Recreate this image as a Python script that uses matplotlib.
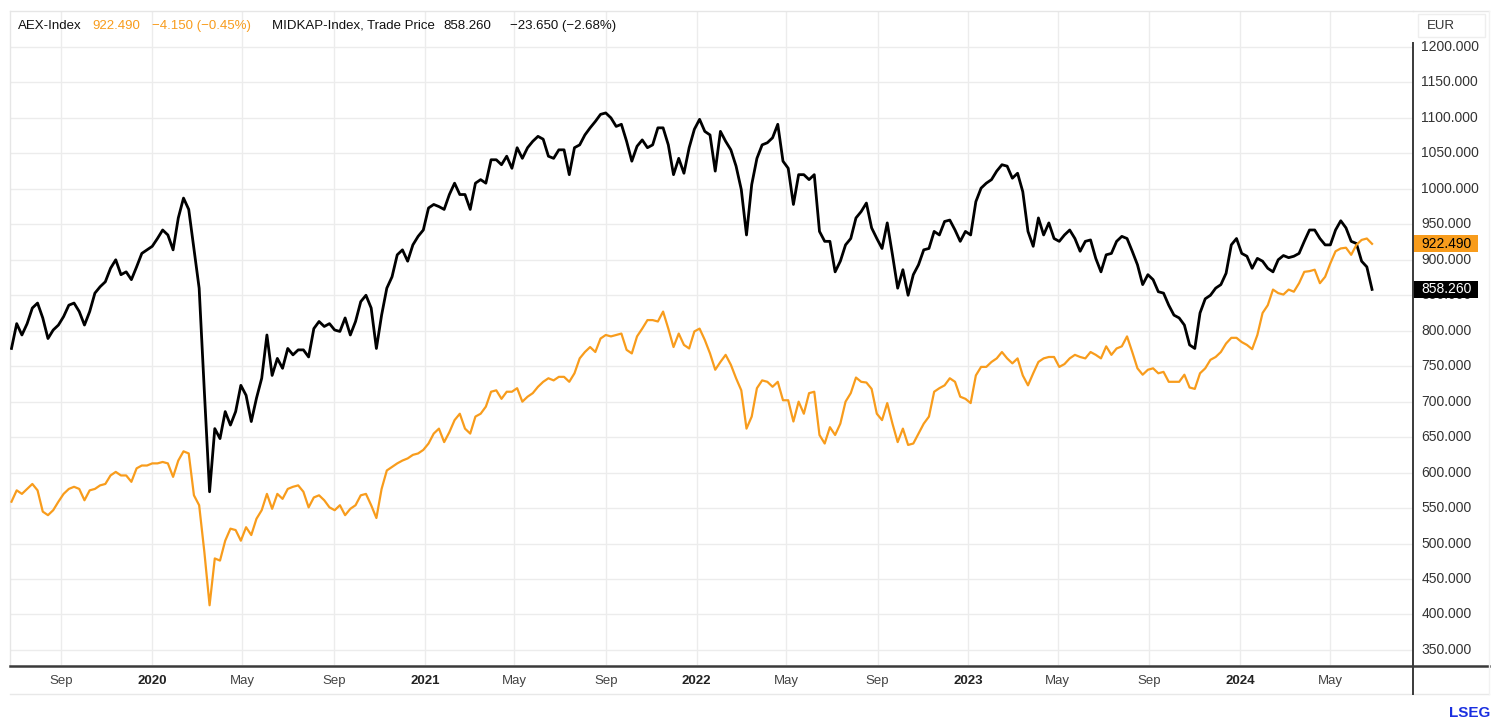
import numpy as np
import pandas as pd
import matplotlib
matplotlib.use("Agg")
import matplotlib.pyplot as plt
import matplotlib.dates as mdates
import matplotlib.transforms as mtransforms
from matplotlib.lines import Line2D
from matplotlib.patches import Rectangle

plt.rcParams['font.family'] = ['Liberation Sans', 'DejaVu Sans']

# weekly closes, starting 2019-06-26
start_date = "2019-06-26"

aex = [559, 575, 570, 577, 584, 575, 545, 540, 547, 559, 570, 577, 580, 577, 561, 575,
       577, 582, 584, 596, 601, 596, 596, 587, 606, 610, 610, 613, 613, 615, 613, 594,
       617, 630, 627, 568, 554, 488, 413, 479, 476, 504, 521, 519, 504, 523, 512, 535,
       547, 570, 549, 570, 563, 577, 580, 582, 573, 551, 565, 568, 561, 551, 547, 554,
       540, 549, 554, 568, 570, 554, 536, 577, 603, 608, 613, 617, 620, 625, 627, 632,
       641, 655, 662, 643, 657, 674, 683, 662, 655, 679, 683, 693, 714, 716, 704, 714,
       714, 719, 700, 707, 712, 721, 728, 733, 730, 735, 735, 728, 740, 761, 770, 777,
       770, 789, 794, 792, 794, 796, 773, 768, 792, 803, 815, 815, 813, 827, 803, 777,
       796, 780, 775, 799, 803, 787, 768, 745, 756, 766, 752, 733, 716, 662, 679, 719,
       730, 728, 721, 728, 702, 702, 672, 700, 683, 712, 714, 653, 641, 664, 653, 669,
       700, 712, 734, 728, 727, 718, 683, 674, 698, 669, 643, 662, 639, 641, 655, 669,
       679, 714, 719, 723, 733, 728, 707, 704, 698, 737, 749, 749, 756, 761, 770, 761,
       754, 761, 737, 723, 740, 756, 761, 763, 763, 749, 753, 761, 766, 763, 761, 770,
       766, 761, 778, 766, 775, 778, 792, 770, 747, 738, 745, 747, 740, 742, 728, 728,
       728, 738, 720, 718, 740, 747, 759, 763, 770, 782, 790, 790, 784, 780, 774, 794,
       825, 836, 858, 853, 851, 858, 855, 867, 883, 884, 886, 867, 876, 895, 912, 916,
       917, 907, 921, 928, 930, 922.49]

midkap = [775, 810, 794, 810, 832, 839, 818, 789, 801, 808, 820, 836, 839, 827, 808, 827,
          853, 862, 869, 888, 900, 879, 883, 872, 890, 909, 914, 919, 930, 942, 935, 914,
          959, 987, 971, 916, 860, 714, 573, 662, 648, 686, 667, 686, 723, 709, 672, 705,
          733, 794, 737, 761, 747, 775, 766, 773, 773, 763, 803, 813, 806, 810, 801, 799,
          818, 794, 813, 841, 850, 832, 775, 822, 860, 876, 907, 914, 898, 921, 933, 942,
          973, 978, 975, 971, 992, 1008, 992, 992, 971, 1008, 1013, 1008, 1041, 1041, 1034, 1046,
          1029, 1058, 1043, 1058, 1067, 1074, 1070, 1046, 1043, 1055, 1055, 1020, 1058, 1062, 1076, 1086,
          1095, 1105, 1107, 1100, 1088, 1091, 1067, 1039, 1060, 1069, 1058, 1062, 1086, 1086, 1062, 1020,
          1043, 1022, 1058, 1084, 1098, 1081, 1076, 1025, 1081, 1067, 1055, 1032, 999, 935, 1006, 1043,
          1062, 1065, 1072, 1091, 1039, 1029, 978, 1020, 1020, 1013, 1020, 940, 926, 926, 883, 898,
          921, 930, 959, 968, 980, 945, 930, 916, 952, 907, 860, 886, 850, 879, 893, 914,
          916, 940, 935, 954, 956, 942, 926, 940, 935, 982, 1001, 1008, 1013, 1025, 1034, 1032,
          1015, 1022, 996, 940, 919, 959, 935, 952, 930, 926, 935, 942, 930, 912, 926, 928,
          902, 883, 907, 909, 926, 933, 930, 912, 893, 865, 879, 872, 855, 853, 836, 822,
          818, 808, 780, 775, 825, 845, 850, 860, 865, 881, 921, 930, 909, 905, 888, 902,
          898, 888, 883, 900, 906, 903, 905, 909, 926, 942, 942, 930, 921, 921, 942, 955,
          945, 926, 923, 898, 890, 858.26]

month_ticks = ["2019-09-01", "2020-01-01", "2020-05-01", "2020-09-01", "2021-01-01",
               "2021-05-01", "2021-09-01", "2022-01-01", "2022-05-01", "2022-09-01",
               "2023-01-01", "2023-05-01", "2023-09-01", "2024-01-01", "2024-05-01"]
y_ticks = list(range(350, 1201, 50))

ORANGE = "#F89C1C"
W, H = 1500, 726
X0, X1 = pd.Timestamp("2019-06-24"), pd.Timestamp("2024-08-20")


def fx(px):
    return px / W


def fy(py):
    return 1 - py / H


dates = pd.date_range(start_date, periods=len(aex), freq="7D")

fig = plt.figure(figsize=(15, 7.26), dpi=100)
ax = fig.add_axes([fx(10), fy(665), fx(1413) - fx(10), fy(11) - fy(665)])

ax.plot(dates, midkap, color="black", lw=2.0, zorder=3)
ax.plot(dates, aex, color=ORANGE, lw=1.6, zorder=4)

ax.set_xlim(X0, X1)
ax.set_ylim(328.8, 1250.7)

tick_dates = pd.to_datetime(month_ticks)
ax.set_xticks(tick_dates)
ax.set_xticklabels([])
ax.set_yticks(y_ticks)
ax.set_yticklabels([])
ax.tick_params(length=0)
ax.grid(True, color="#ECECEC", lw=1.0, zorder=0)

for s in ["left", "top"]:
    ax.spines[s].set_color("#E6E6E6")
    ax.spines[s].set_linewidth(1.0)
ax.spines["right"].set_visible(False)
ax.spines["bottom"].set_visible(False)

# axis lines outside the plotting area
fig.add_artist(Line2D([fx(10), fx(1489)], [fy(665.5), fy(665.5)], color="#3A3A3A", lw=1.8))
fig.add_artist(Line2D([fx(10), fx(1489)], [fy(694), fy(694)], color="#E8E8E8", lw=1.0))
fig.add_artist(Line2D([fx(1413), fx(1413)], [fy(43), fy(694)], color="#3A3A3A", lw=1.4))
fig.add_artist(Line2D([fx(1413), fx(1489)], [fy(11), fy(11)], color="#E6E6E6", lw=1.0))
fig.add_artist(Line2D([fx(1489), fx(1489)], [fy(11), fy(694)], color="#F2F2F2", lw=1.0))

# x tick labels: years bold
span = mdates.date2num(X1) - mdates.date2num(X0)
for d in tick_dates:
    xpix = 10 + (mdates.date2num(d) - mdates.date2num(X0)) / span * 1403
    if d.month == 1:
        fig.text(fx(xpix), fy(681), str(d.year), ha="center", va="center",
                 fontsize=9.5, fontweight="bold", color="#222222")
    else:
        fig.text(fx(xpix), fy(681), d.strftime("%b"), ha="center", va="center",
                 fontsize=9.5, color="#444444")

# y tick labels on the right
for v in y_ticks:
    ax.annotate(f"{v:.3f}", xy=(1, v), xycoords=("axes fraction", "data"),
                xytext=(6, 0), textcoords="offset points", ha="left", va="center",
                fontsize=10, color="#333333", annotation_clip=False, zorder=2)

# last value boxes
blend = mtransforms.blended_transform_factory(fig.transFigure, ax.transData)
box_h = 17 / 35.47 * 50
for val, bg in [(aex[-1], ORANGE), (midkap[-1], "black")]:
    fg = "black" if bg == ORANGE else "white"
    ax.add_patch(Rectangle((fx(1413), val - box_h / 2), fx(1478) - fx(1413), box_h,
                           transform=blend, fc=bg, ec="none", clip_on=False, zorder=6))
    ax.annotate(f"{val:.3f}", xy=(1, val), xycoords=("axes fraction", "data"),
                xytext=(6, 0), textcoords="offset points", ha="left", va="center",
                fontsize=10, color=fg, annotation_clip=False, zorder=7)

# header legend
hdr = [(18, "AEX-Index", "#111111"), (92, "922.490", ORANGE),
       (152, "\u22124.150 (\u22120.45%)", ORANGE),
       (272, "MIDKAP-Index, Trade Price", "#111111"), (443, "858.260", "#111111"),
       (510, "\u221223.650 (\u22122.68%)", "#111111")]
for xp, txt, col in hdr:
    fig.text(fx(xp), fy(26), txt, fontsize=9.5, color=col, va="center")

# currency box
fig.add_artist(Rectangle((fx(1418), fy(37)), fx(1485) - fx(1418), fy(14) - fy(37),
                         fc="white", ec="#EEEEEE", lw=1.0))
fig.text(fx(1427), fy(26), "EUR", fontsize=9.5, color="#333333", va="center")

# logo text
fig.text(fx(1490), fy(713), "LSEG", fontsize=11, fontweight="bold", color="#1A2FE0",
         ha="right", va="center")

fig.savefig("out.png", dpi=100)
